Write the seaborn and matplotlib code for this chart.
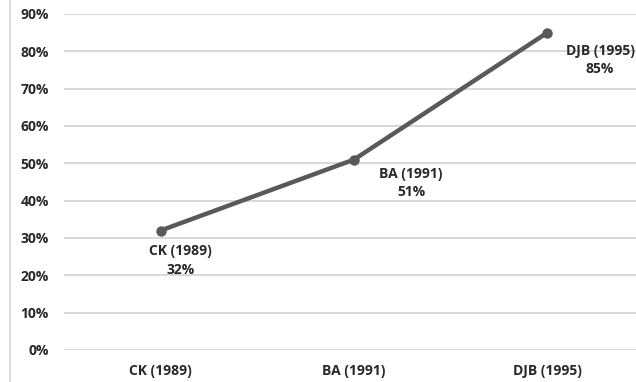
import matplotlib
matplotlib.use('Agg')
import matplotlib.pyplot as plt
import matplotlib.ticker as mticker
from matplotlib.lines import Line2D
import pandas as pd
import seaborn as sns

# data
categories = ['CK (1989)', 'BA (1991)', 'DJB (1995)']
shares = [0.32, 0.51, 0.85]
# label offsets (points) relative to each marker
label_dx = [14, 41, 38]
label_dy = [-10, -5, -8]

sns.set_style('white')
plt.rcParams['font.family'] = ['Open Sans', 'DejaVu Sans']

df = pd.DataFrame({'who': categories, 'share': shares, 'pos': range(len(categories))})

fig = plt.figure(figsize=(6.36, 3.82), dpi=100)
ax = fig.add_axes([0.1006, 0.0838, 0.912, 0.8796])

sns.lineplot(data=df, x='pos', y='share', ax=ax, color='#595959', linewidth=3.2,
             marker='o', markersize=7.5, markeredgewidth=0)

ax.set_xlim(-0.5, 2.5)
ax.set_ylim(0, 0.9)
ax.set_yticks([i / 10 for i in range(10)])
ax.yaxis.set_major_formatter(mticker.PercentFormatter(1.0, decimals=0))
ax.set_xticks(df['pos'])
ax.set_xticklabels(categories)
ax.grid(axis='y', color='#d6d6d6', linewidth=1.3)
ax.set_axisbelow(True)
for s in ax.spines.values():
    s.set_visible(False)
ax.tick_params(axis='y', length=0, pad=11, labelsize=10, labelcolor='#282828')
ax.tick_params(axis='x', length=0, pad=10, labelsize=10, labelcolor='#282828')
for t in ax.get_xticklabels() + ax.get_yticklabels():
    t.set_fontweight('bold')
ax.set_xlabel('')
ax.set_ylabel('')

for i, row in df.iterrows():
    ax.annotate('{}\n{:.0%}'.format(row['who'], row['share']), (row['pos'], row['share']),
                xytext=(label_dx[i], label_dy[i]), textcoords='offset points',
                ha='center', va='top', fontsize=10, fontweight='bold', color='#282828',
                linespacing=1.4)

# thin border line at the left edge of the original image
fig.add_artist(Line2D([0.016, 0.016], [0, 1], transform=fig.transFigure,
                      color='#d9d9d9', linewidth=1.2))

fig.savefig('out.png', dpi=100)
